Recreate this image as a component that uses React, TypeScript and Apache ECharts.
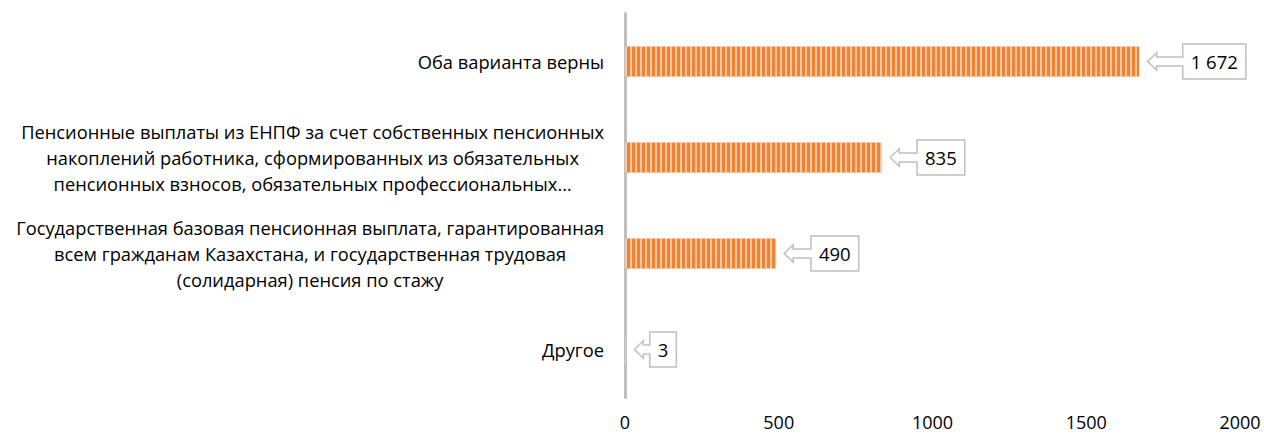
import React, { useEffect, useRef } from "react";
import * as echarts from "echarts";

const categoryLines: string[][] = [
  ["Оба варианта верны"],
  [
    "Пенсионные выплаты из ЕНПФ за счет собственных пенсионных",
    "накоплений работника, сформированных из обязательных",
    "пенсионных взносов, обязательных профессиональных…",
  ],
  [
    "Государственная базовая пенсионная выплата, гарантированная",
    "всем гражданам Казахстана, и государственная трудовая",
    "(солидарная) пенсия по стажу",
  ],
  ["Другое"],
];
const categories = categoryLines.map((l) => l.join("\n"));
const values = [1672, 835, 490, 3];
const xMin = 0;
const xMax = 2000;
const xStep = 500;

const FONT_FAMILY = '"Open Sans", sans-serif';
const FONT_SIZE = 18.5;

const fmt = (v: number) => String(v).replace(/\B(?=(\d{3})+(?!\d))/g, " ");

let measureCtx: CanvasRenderingContext2D | null = null;
const measure = (s: string) => {
  if (!measureCtx) measureCtx = document.createElement("canvas").getContext("2d");
  if (!measureCtx) return s.length * 10;
  measureCtx.font = `${FONT_SIZE}px ${FONT_FAMILY}`;
  return measureCtx.measureText(s).width;
};

export default function App() {
  const ref = useRef<HTMLDivElement>(null);
  useEffect(() => {
    document.body.style.margin = "0";
    if (!ref.current) return;
    const chart = echarts.init(ref.current, undefined, { renderer: "svg" });
    chart.setOption({
      animation: false,
      aria: { enabled: true, label: { enabled: false }, decal: { show: true } },
      grid: { left: 625, right: 24, top: 13.5, bottom: 36.5, containLabel: false },
      xAxis: {
        type: "value",
        min: xMin,
        max: xMax,
        interval: xStep,
        axisLine: { show: false },
        axisTick: { show: false },
        splitLine: { show: false },
        axisLabel: {
          margin: 15,
          color: "#000",
          fontFamily: FONT_FAMILY,
          fontSize: 18,
          formatter: (v: number) => String(v),
        },
      },
      yAxis: {
        type: "category",
        data: categories,
        inverse: true,
        axisLine: { show: true, lineStyle: { color: "#BFBFBF", width: 3 } },
        axisTick: { show: false },
        splitLine: { show: false },
        axisLabel: {
          margin: 21,
          formatter: (val: string) =>
            val
              .split("\n")
              .map((l) => `{c|${l}}`)
              .join("\n"),
          rich: {
            c: {
              align: "center",
              fontFamily: FONT_FAMILY,
              fontSize: 18.3,
              lineHeight: 26,
              color: "#000",
            },
          },
        },
      },
      series: [
        {
          type: "bar",
          data: values,
          barWidth: 30,
          itemStyle: {
            color: "#F08232",
            decal: {
              symbol: "rect",
              symbolSize: 1,
              symbolKeepAspect: false,
              color: "rgba(255,255,255,0.55)",
              dashArrayX: [1.5, 2.5],
              dashArrayY: [4, 0],
              rotation: 0,
            },
          },
        },
        {
          type: "custom",
          clip: false,
          encode: { x: 0, y: 1 },
          data: values.map((v, i) => [v, i]),
          renderItem: (_params: any, api: any) => {
            const v = api.value(0) as number;
            const idx = api.value(1) as number;
            const p = api.coord([v, idx]);
            const label = fmt(v);
            const bw = measure(label) + 16;
            const y = p[1];
            const tx = p[0] + 8.5;
            const hx = tx + 9;
            const bx = tx + 0.54 * bw + 1;
            const hh = 8.7;
            const sh = 4.4;
            const bh = 17.5;
            return {
              type: "group",
              children: [
                {
                  type: "polygon",
                  shape: {
                    points: [
                      [tx, y],
                      [hx, y - hh],
                      [hx, y - sh],
                      [bx, y - sh],
                      [bx, y - bh],
                      [bx + bw, y - bh],
                      [bx + bw, y + bh],
                      [bx, y + bh],
                      [bx, y + sh],
                      [hx, y + sh],
                      [hx, y + hh],
                    ],
                  },
                  style: { fill: "#fff", stroke: "#BFBFBF", lineWidth: 1.5 },
                },
                {
                  type: "text",
                  style: {
                    text: label,
                    x: bx + bw / 2,
                    y,
                    align: "center",
                    verticalAlign: "middle",
                    fontFamily: FONT_FAMILY,
                    fontSize: FONT_SIZE,
                    fill: "#000",
                  },
                },
              ],
            };
          },
        },
      ],
    });
    return () => chart.dispose();
  }, []);
  return <div ref={ref} style={{ width: 1264, height: 434 }} />;
}
